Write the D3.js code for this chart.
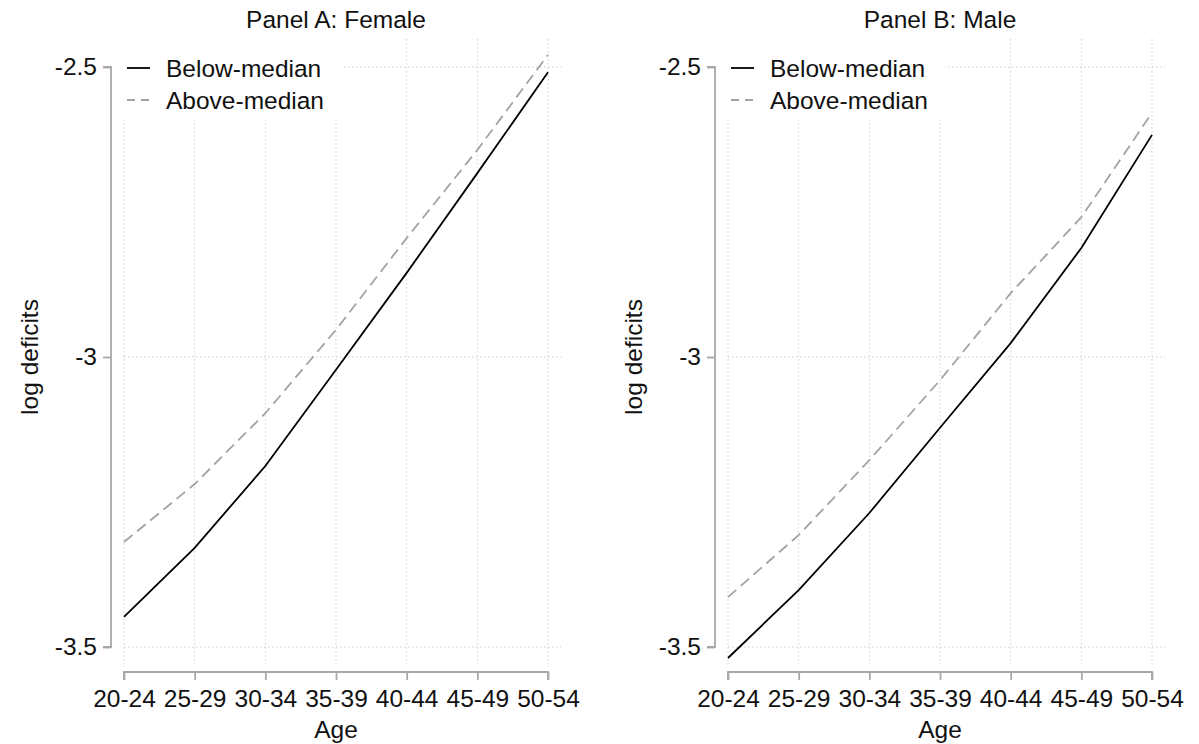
<!DOCTYPE html>
<html>
<head>
<meta charset="utf-8">
<script src="https://cdn.jsdelivr.net/npm/d3@7"></script>
<style>
  body { margin: 0; background: #fff; }
  text { font-family: "Liberation Sans", Arial, sans-serif; fill: #111; }
</style>
</head>
<body>
<script>
var ageGroups = ['20-24', '25-29', '30-34', '35-39', '40-44', '45-49', '50-54']
var yTicks = [-3.5, -3, -2.5]
var seriesNames = ['Below-median', 'Above-median']

// Panel A: Female
var femaleBelow = [-3.448, -3.329, -3.188, -3.022, -2.855, -2.683, -2.509]
var femaleAbove = [-3.319, -3.219, -3.097, -2.953, -2.795, -2.643, -2.479]
// Panel B: Male
var maleBelow = [-3.519, -3.402, -3.269, -3.122, -2.976, -2.812, -2.617]
var maleAbove = [-3.414, -3.307, -3.178, -3.040, -2.890, -2.759, -2.579]

var W = 1199, H = 744
var fs = 24.5

var svg = d3.select('body').append('svg')
  .attr('width', W)
  .attr('height', H)

var styles = [
  {stroke: '#000', dash: null},
  {stroke: '#a3a3a3', dash: '11,6'}
]

function panel(title, below, above, left) {
  var axisX = left, x0 = left + 13, x1 = left + 437
  var top = 39, bottom = 667
  var x = d3.scalePoint().domain(ageGroups).range([x0, x1])
  var y = d3.scaleLinear().domain([-3.5, -2.5]).range([647, 67])
  var g = svg.append('g')

  // grid
  g.selectAll('.vgrid').data(ageGroups).enter().append('line')
    .attr('x1', d => x(d)).attr('x2', d => x(d))
    .attr('y1', top).attr('y2', bottom)
    .attr('stroke', '#cfcfcf').attr('stroke-dasharray', '1.5,2.5')
  g.selectAll('.hgrid').data(yTicks).enter().append('line')
    .attr('x1', x0).attr('x2', x1 + 13)
    .attr('y1', d => y(d)).attr('y2', d => y(d))
    .attr('stroke', '#cfcfcf').attr('stroke-dasharray', '1.5,2.5')

  // y axis
  var ya = g.append('g').attr('transform', `translate(${axisX},0)`)
    .call(d3.axisLeft(y).tickValues(yTicks).tickSize(8).tickPadding(6)
      .tickFormat(d => String(d)))
  ya.select('.domain').attr('d', `M-8,${y(-2.5)}H0V${y(-3.5)}H-8`)
    .attr('stroke', '#a8a8a8').attr('stroke-width', 1.8)
  ya.selectAll('.tick line').attr('stroke', '#a8a8a8').attr('stroke-width', 1.8)
  ya.selectAll('.tick text').style('font-size', fs + 'px')
    .attr('font-family', null).attr('fill', '#111')

  // x axis
  var xa = g.append('g').attr('transform', `translate(0,672)`)
    .call(d3.axisBottom(x).tickSize(8).tickPadding(10))
  xa.select('.domain').attr('d', `M${x0},8V0H${x1}V8`)
    .attr('stroke', '#a8a8a8').attr('stroke-width', 1.8)
  xa.selectAll('.tick line').attr('stroke', '#a8a8a8').attr('stroke-width', 1.8)
  xa.selectAll('.tick text').style('font-size', fs + 'px')
    .attr('font-family', null).attr('fill', '#111')

  // lines
  var line = d3.line().x((d, i) => x(ageGroups[i])).y(d => y(d))
  ;[below, above].forEach(function (s, k) {
    g.append('path').datum(s)
      .attr('d', line)
      .attr('fill', 'none')
      .attr('stroke', styles[k].stroke)
      .attr('stroke-width', 1.8)
      .attr('stroke-dasharray', styles[k].dash)
  })

  // legend
  var lg = g.append('g')
  lg.append('rect').attr('x', x0 - 1).attr('y', top).attr('width', 218).attr('height', 81)
    .attr('fill', '#fff')
  seriesNames.forEach(function (name, k) {
    var ly = 68 + k * 32
    lg.append('line').attr('x1', x0 + 3).attr('x2', x0 + 26)
      .attr('y1', ly).attr('y2', ly)
      .attr('stroke', styles[k].stroke).attr('stroke-width', 1.8)
      .attr('stroke-dasharray', k ? '8,6' : null)
    lg.append('text').attr('x', x0 + 42).attr('y', ly).attr('dy', '0.36em')
      .style('font-size', fs + 'px').text(name)
  })

  // titles
  g.append('text').attr('x', (x0 + x1) / 2).attr('y', 28)
    .attr('text-anchor', 'middle').style('font-size', fs + 'px').text(title)
  g.append('text').attr('x', (x0 + x1) / 2).attr('y', 738)
    .attr('text-anchor', 'middle').style('font-size', fs + 'px').text('Age')
  g.append('text')
    .attr('transform', `translate(${axisX - 73},${y(-3)}) rotate(-90)`)
    .attr('text-anchor', 'middle').style('font-size', fs + 'px').text('log deficits')
}

panel('Panel A: Female', femaleBelow, femaleAbove, 111)
panel('Panel B: Male', maleBelow, maleAbove, 715)
</script>
</body>
</html>
